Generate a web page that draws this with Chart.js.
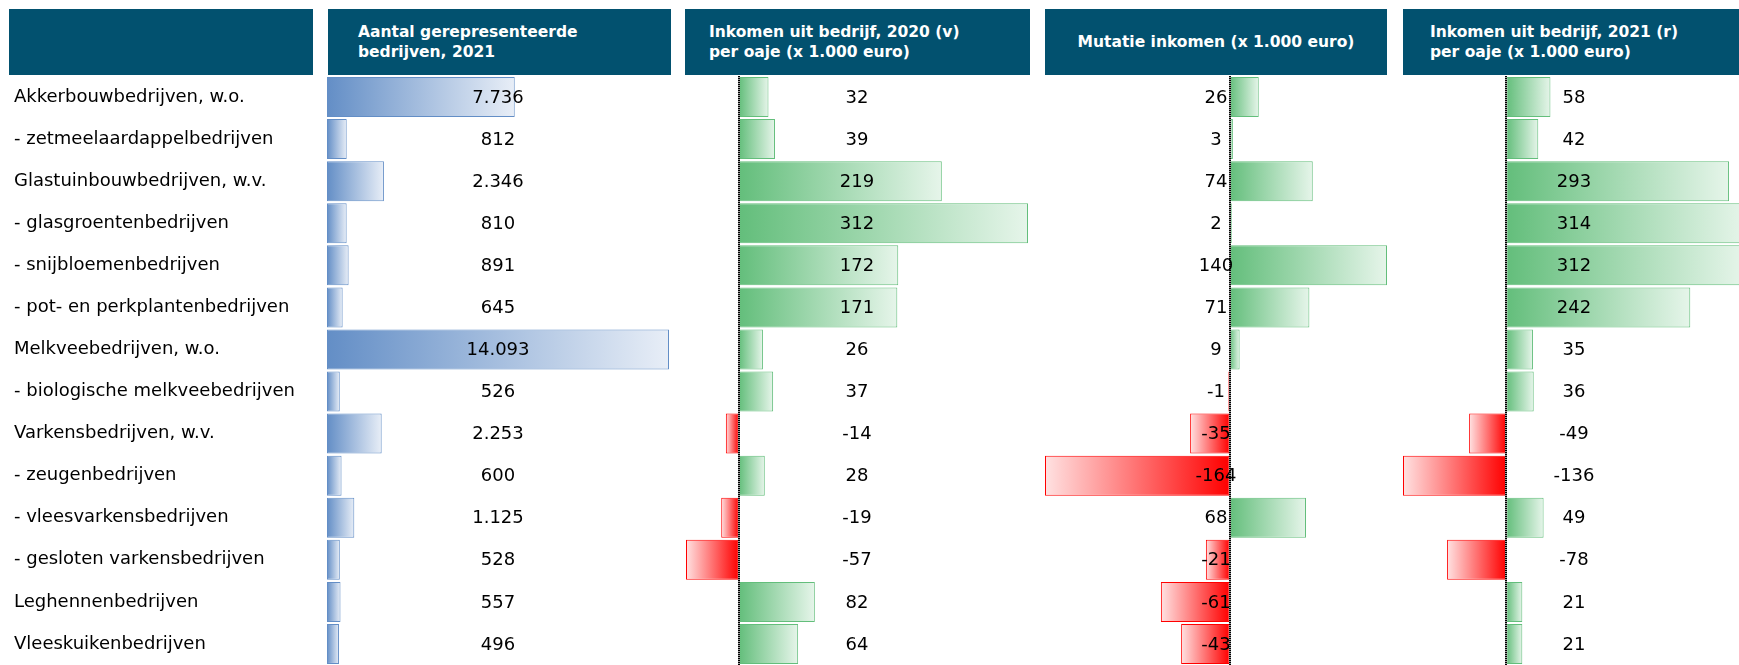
<!DOCTYPE html>
<html lang="nl">
<head>
<meta charset="utf-8">
<script src="https://cdn.jsdelivr.net/npm/chart.js@4.4.1/dist/chart.umd.min.js"></script>
<style>
  body { margin: 0; width: 1739px; height: 665px; overflow: hidden; background: #fff; position: relative; font-family: "DejaVu Sans", Verdana, sans-serif; }
  .head { position: absolute; top: 9px; height: 66px; background: #02516f; color: #fff; font-weight: bold; font-size: 15.5px; line-height: 20px; display: flex; align-items: center; box-sizing: border-box; white-space: nowrap; }
  canvas { position: absolute; top: 76px; }
</style>
</head>
<body>
<div class="head" style="left:9px;width:304px"></div>
<div class="head" style="left:328px;width:343px;padding-left:30px">Aantal gerepresenteerde<br>bedrijven, 2021</div>
<div class="head" style="left:685px;width:345px;padding-left:24px">Inkomen uit bedrijf, 2020 (v)<br>per oaje (x 1.000 euro)</div>
<div class="head" style="left:1045px;width:342px;justify-content:center">Mutatie inkomen (x 1.000 euro)</div>
<div class="head" style="left:1403px;width:345px;padding-left:27px">Inkomen uit bedrijf, 2021 (r)<br>per oaje (x 1.000 euro)</div>

<canvas id="bedrijvenChart" width="670" height="589" style="left:0"></canvas>
<canvas id="inkomen2020Chart" width="342" height="589" style="left:686px"></canvas>
<canvas id="mutatieChart" width="342" height="589" style="left:1045px"></canvas>
<canvas id="inkomen2021Chart" width="342" height="589" style="left:1403px"></canvas>

<script>
const categories = [
    'Akkerbouwbedrijven, w.o.',
    '- zetmeelaardappelbedrijven',
    'Glastuinbouwbedrijven, w.v.',
    '- glasgroentenbedrijven',
    '- snijbloemenbedrijven',
    '- pot- en perkplantenbedrijven',
    'Melkveebedrijven, w.o.',
    '- biologische melkveebedrijven',
    'Varkensbedrijven, w.v.',
    '- zeugenbedrijven',
    '- vleesvarkensbedrijven',
    '- gesloten varkensbedrijven',
    'Leghennenbedrijven',
    'Vleeskuikenbedrijven',
];
const bedrijven = [7736, 812, 2346, 810, 891, 645, 14093, 526, 2253, 600, 1125, 528, 557, 496];
const inkomen2020 = [32, 39, 219, 312, 172, 171, 26, 37, -14, 28, -19, -57, 82, 64];
const mutatie = [26, 3, 74, 2, 140, 71, 9, -1, -35, -164, 68, -21, -61, -43];
const inkomen2021 = [58, 42, 293, 314, 312, 242, 35, 36, -49, -136, 49, -78, 21, 21];

Chart.defaults.font.family = '"DejaVu Sans", Verdana, sans-serif';

const colors = {
    blue: '#638ec6',
    blueLight: '#e8eef7',
    green: '#63be7b',
    greenLight: '#e6f5ea',
    red: '#ff0000',
    redLight: '#ffe2e2',
    text: '#000000',
};

function formatNl(v) {
    const s = String(Math.abs(v)).replace(/\B(?=(\d{3})+(?!\d))/g, '.');
    return (v < 0 ? '-' : '') + s;
}

function gradientFor(c, base, light) {
    const chart = c.chart;
    const x = chart.scales.x;
    if (!chart.chartArea || !x) return base;
    const g = chart.ctx.createLinearGradient(x.getPixelForValue(0), 0, x.getPixelForValue(c.raw), 0);
    g.addColorStop(0, base);
    g.addColorStop(1, light);
    return g;
}

// dotted zero line + the numbers centred in each column
const valueLabels = {
    id: 'valueLabels',
    afterDatasetsDraw(chart, args, opts) {
        const { ctx, chartArea } = chart;
        const x = chart.scales.x;
        ctx.save();
        if (opts.zeroLine) {
            const x0 = Math.round(x.getPixelForValue(0));
            ctx.lineWidth = 2;
            ctx.strokeStyle = '#9a9a9a';
            ctx.beginPath();
            ctx.moveTo(x0, chartArea.top);
            ctx.lineTo(x0, chartArea.bottom);
            ctx.stroke();
            ctx.strokeStyle = '#000';
            ctx.setLineDash([1, 1]);
            ctx.beginPath();
            ctx.moveTo(x0, chartArea.top);
            ctx.lineTo(x0, chartArea.bottom);
            ctx.stroke();
            ctx.setLineDash([]);
        }
        ctx.fillStyle = colors.text;
        ctx.font = '18px "DejaVu Sans", Verdana, sans-serif';
        ctx.textAlign = 'center';
        ctx.textBaseline = 'middle';
        const cx = (chartArea.left + chartArea.right) / 2;
        const values = chart.data.datasets[0].data;
        chart.getDatasetMeta(0).data.forEach((bar, i) => {
            ctx.fillText(formatNl(values[i]), cx, bar.y + 1);
        });
        ctx.restore();
    }
};

function initColumn(canvasId, values, opts) {
    const canvas = document.getElementById(canvasId);
    if (!canvas) return;

    const pos = opts.pos;
    const neg = opts.neg;

    new Chart(canvas, {
        type: 'bar',
        data: {
            labels: categories,
            datasets: [{
                data: values,
                backgroundColor: c => c.raw < 0 ? gradientFor(c, neg[0], neg[1]) : gradientFor(c, pos[0], pos[1]),
                borderColor: c => c.raw < 0 ? neg[0] : pos[0],
                borderWidth: 1,
                borderSkipped: false,
                barPercentage: 1,
                categoryPercentage: 0.95,
            }]
        },
        options: {
            indexAxis: 'y',
            responsive: false,
            animation: false,
            events: [],
            layout: { padding: opts.padding || 0 },
            plugins: {
                legend: { display: false },
                tooltip: { enabled: false },
                valueLabels: { zeroLine: opts.zeroLine },
            },
            scales: {
                x: {
                    display: false,
                    min: Math.min(0, ...values),
                    max: Math.max(...values),
                },
                y: opts.showLabels ? {
                    position: 'left',
                    grid: { display: false },
                    border: { display: false },
                    ticks: {
                        crossAlign: 'far',
                        color: colors.text,
                        font: { size: 18 },
                        padding: 0,
                        autoSkip: false,
                    },
                    afterFit: s => {
                        s.width = 313;
                        s.paddingTop = 0;
                        s.paddingBottom = 0;
                    },
                } : { display: false },
            }
        },
        plugins: [valueLabels]
    });
}

initColumn('bedrijvenChart', bedrijven, {
    pos: [colors.blue, colors.blueLight],
    neg: [colors.blue, colors.blueLight],
    showLabels: true,
    zeroLine: false,
    padding: { left: 14, right: 1 },
});
initColumn('inkomen2020Chart', inkomen2020, {
    pos: [colors.green, colors.greenLight],
    neg: [colors.red, colors.redLight],
    zeroLine: true,
});
initColumn('mutatieChart', mutatie, {
    pos: [colors.green, colors.greenLight],
    neg: [colors.red, colors.redLight],
    zeroLine: true,
});
initColumn('inkomen2021Chart', inkomen2021, {
    pos: [colors.green, colors.greenLight],
    neg: [colors.red, colors.redLight],
    zeroLine: true,
});
</script>
</body>
</html>
